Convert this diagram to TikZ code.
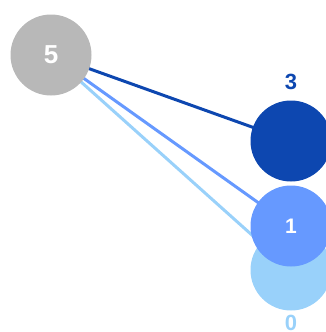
\documentclass[tikz,border=0pt]{standalone}
\usepackage{fontspec}
\setmainfont{Liberation Sans}
\definecolor{cgray}{HTML}{B8B8B8}
\definecolor{cdark}{HTML}{0D47B0}
\definecolor{cmid}{HTML}{6699FF}
\definecolor{clight}{HTML}{99D1FA}
\begin{document}
\begin{tikzpicture}[x=1pt,y=-1pt,
  vtx/.style={circle,minimum size=81pt,inner sep=0pt,text=white,font=\bfseries\fontsize{21}{21}\selectfont},
  edge/.style={line width=3pt},
  lbl/.style={font=\bfseries\fontsize{22}{22}\selectfont,inner sep=0pt}]
\useasboundingbox (0,0) rectangle (325,332);
\coordinate (c5) at (51,55);
\coordinate (c3) at (291,141);
\coordinate (c1) at (291,226);
\coordinate (c0) at (291,270);
\draw[edge,cdark] (c5) -- (c3);
\draw[edge,cmid] (c5) -- (c1);
\draw[edge,clight] (c5) -- (c0);
\node[vtx,fill=clight] (n0) at (c0) {};
\node[vtx,fill=cdark] (n3) at (c3) {};
\node[vtx,fill=cmid] (n1) at (c1) {1};
\node[vtx,fill=cgray,font=\bfseries\fontsize{26}{26}\selectfont] (n5) at (c5) {5};
\node[lbl,text=cdark] (l3) at (291,82) {3};
\node[lbl,text=clight] (l0) at (291,323) {0};
\end{tikzpicture}
\end{document}
